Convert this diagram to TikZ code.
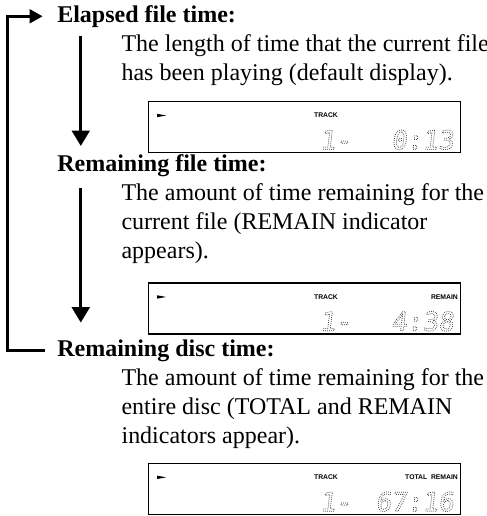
\documentclass[tikz,border=0pt]{standalone}
\usepackage{fontspec}
\setmainfont{Liberation Serif}
\setsansfont{Liberation Sans}
\newfontfamily\lcdfont[FakeSlant=0.12]{DejaVu Sans Mono}
\usetikzlibrary{arrows.meta,positioning}

\newcommand\bodysize{\fontsize{12}{14.5}\selectfont}
% dotted outline digits, as on the player display
\newcommand\dotdigits[1]{\special{pdf:literal direct 1 Tr 0.5 w [0 1.0] 0 d 1 J}#1\special{pdf:literal direct 0 Tr [] 0 d 0 J}}

\begin{document}
\begin{tikzpicture}[
    hd/.style={anchor=base west, inner sep=0pt, font=\bodysize\bfseries},
    txt/.style={anchor=base west, inner sep=0pt, align=left, font=\bodysize},
    lcd/.style={draw, line width=0.7pt, anchor=north west, inner sep=0pt,
                minimum width=5.48cm, minimum height=0.90cm},
    tag/.style={inner sep=0pt, font=\fontsize{3.4}{4}\selectfont\sffamily\bfseries},
    seg/.style={anchor=base, inner sep=0pt, text=black!85,
                font=\fontsize{13}{13}\selectfont\lcdfont},
    conn/.style={-{Triangle[length=0.27cm, width=0.31cm]}, line width=1.5pt},
    retline/.style={-{Triangle[length=0.23cm, width=0.24cm]}, line width=1.5pt}
  ]
  \useasboundingbox (0,0) rectangle (8.56,-9.07);
  \coordinate (rail) at (1.42,0);
  \coordinate (edge) at (0.14,0);

  % elapsed file time
  \node[hd]  (elapsed)    at (1.00,-0.39) {Elapsed file time:};
  \node[txt] (elapsedtxt) at (2.13,-1.41) {The length of time that the current file\\has been playing (default display).};
  \node[lcd] (lcdA) at (2.60,-1.77) {};
  \fill ([xshift=0.16cm, yshift=-0.23cm]lcdA.north west) -- ++(0.16,-0.03) -- ++(-0.16,-0.03) -- cycle;
  \node[tag] (trackA) at ([xshift=3.13cm, yshift=-0.26cm]lcdA.north west) {TRACK};
  \node[seg, anchor=base west] (numA)  at ([xshift=3.02cm, yshift=0.07cm]lcdA.south west) {\dotdigits{1-}};
  \node[seg, anchor=base east] (timeA) at ([xshift=-0.12cm, yshift=0.07cm]lcdA.south east) {\dotdigits{0:13}};

  % remaining file time
  \node[hd]  (remfile)    at (1.00,-3.02) {Remaining file time:};
  \node[txt] (remfiletxt) at (2.13,-4.55) {The amount of time remaining for the\\current file (REMAIN indicator\\appears).};
  \node[lcd] (lcdB) at (2.60,-4.96) {};
  \fill ([xshift=0.16cm, yshift=-0.23cm]lcdB.north west) -- ++(0.16,-0.03) -- ++(-0.16,-0.03) -- cycle;
  \node[tag] (trackB) at ([xshift=3.13cm, yshift=-0.26cm]lcdB.north west) {TRACK};
  \node[tag, anchor=east] (remainB) at ([xshift=-0.05cm, yshift=-0.26cm]lcdB.north east) {REMAIN};
  \node[seg, anchor=base west] (numB)  at ([xshift=3.02cm, yshift=0.07cm]lcdB.south west) {\dotdigits{1-}};
  \node[seg, anchor=base east] (timeB) at ([xshift=-0.12cm, yshift=0.07cm]lcdB.south east) {\dotdigits{4:38}};

  % remaining disc time
  \node[hd]  (remdisc)    at (1.00,-6.26) {Remaining disc time:};
  \node[txt] (remdisctxt) at (2.13,-7.80) {The amount of time remaining for the\\entire disc (TOTAL and REMAIN\\indicators appear).};
  \node[lcd] (lcdC) at (2.60,-8.13) {};
  \fill ([xshift=0.16cm, yshift=-0.23cm]lcdC.north west) -- ++(0.16,-0.03) -- ++(-0.16,-0.03) -- cycle;
  \node[tag] (trackC) at ([xshift=3.13cm, yshift=-0.26cm]lcdC.north west) {TRACK};
  \node[tag, anchor=east] (remainC) at ([xshift=-0.05cm, yshift=-0.26cm]lcdC.north east) {TOTAL\ \ REMAIN};
  \node[seg, anchor=base west] (numC)  at ([xshift=3.02cm, yshift=0.07cm]lcdC.south west) {\dotdigits{1-}};
  \node[seg, anchor=base east] (timeC) at ([xshift=-0.12cm, yshift=0.07cm]lcdC.south east) {\dotdigits{67:16}};

  \draw[conn, shorten <=0.14cm, shorten >=0.15cm] (elapsed.south -| rail) -- (remfile.north -| rail);
  \draw[conn, shorten <=0.19cm, shorten >=0.29cm] (remfile.south -| rail) -- (remdisc.north -| rail);
  \draw[retline, shorten <=0.21cm, shorten >=0.25cm] (remdisc.west) -- (remdisc.west -| edge) |- (elapsed.west);
\end{tikzpicture}
\end{document}
